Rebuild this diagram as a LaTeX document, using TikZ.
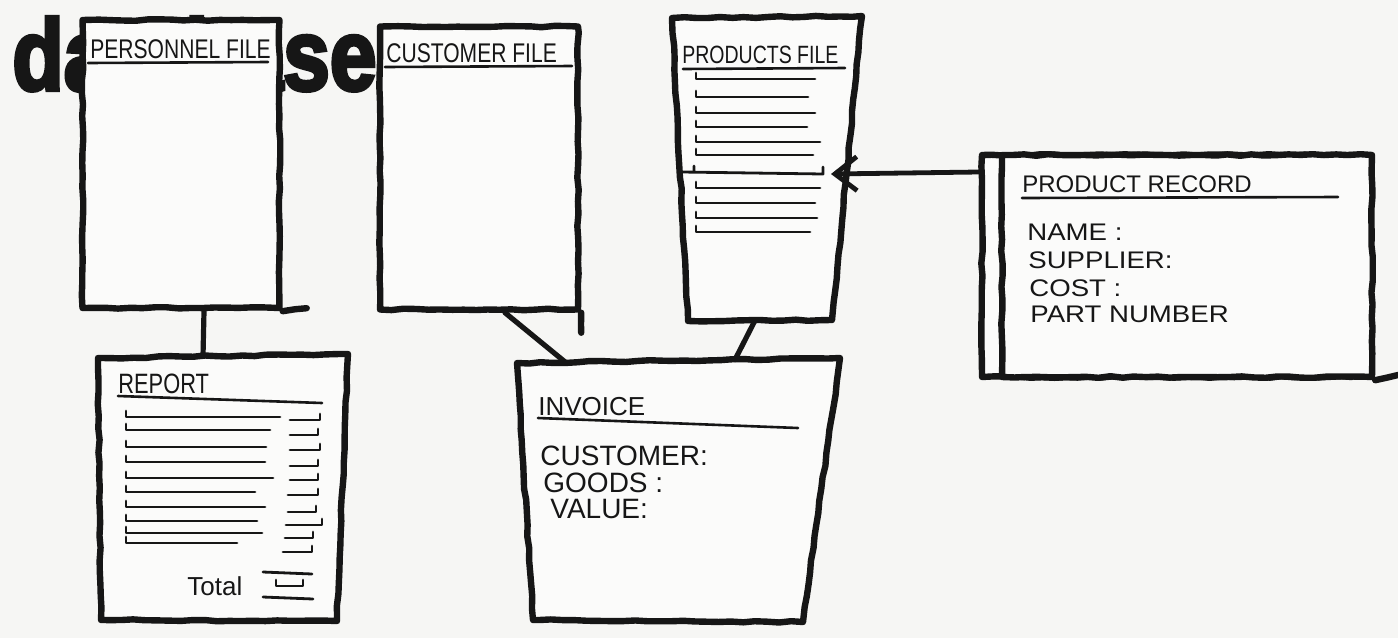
\documentclass[tikz,border=0pt]{standalone}
\usepackage{fontspec}
\usetikzlibrary{arrows.meta, calc, decorations.pathmorphing}
\setmainfont{Liberation Sans}
\newfontfamily\handfont{Liberation Sans}
\newfontfamily\handnarrow[FakeStretch=0.78]{Liberation Sans}
\newfontfamily\handwide[FakeStretch=1.15]{Liberation Sans}
\newfontfamily\blackfont[FakeBold=4]{Liberation Sans Bold}
\definecolor{Paper}{HTML}{F6F6F4}
\definecolor{Sheet}{HTML}{FBFBFA}
\definecolor{Ink}{HTML}{161616}

\begin{document}
\begin{tikzpicture}[
        x=0.5pt, y=-0.5pt,
        ink/.style={draw=Ink, line width=3.2pt, line join=round, line cap=round,
                    decorate, decoration={random steps, segment length=6pt, amplitude=0.4pt}},
        box/.style={ink, fill=Sheet, rectangle, inner sep=0pt},
        link/.style={draw=Ink, line width=2.6pt, line cap=round},
        jot/.style={draw=Ink, line width=1.4pt, line cap=round, line join=round},
        rule/.style={draw=Ink, line width=1.3pt, line cap=round},
        lbl/.style={anchor=base west, inner sep=0pt, text=Ink},
        title/.style={lbl, font=\handnarrow\fontsize{13.5}{16}\selectfont},
        head/.style={lbl, font=\handfont\fontsize{13}{15}\selectfont},
        field/.style={lbl, font=\handfont\fontsize{14}{16}\selectfont},
        rfield/.style={lbl, font=\handwide\fontsize{12}{14}\selectfont},
      ]
        \useasboundingbox (0,0) rectangle (1398,638);
        \fill[Paper] (0,0) rectangle (1398,638);
        \node[lbl, font=\blackfont\fontsize{42}{42}\selectfont] (word) at (12,90) {\scalebox{1}[1.2]{database}};

        % files
        \node[box, minimum width=98.5pt, minimum height=144pt] (pers) at (181,164) {};
        \node[box, minimum width=99pt, minimum height=141.5pt] (cust) at (479,168) {};
        \coordinate (prod-nw) at (672,18);  \coordinate (prod-ne) at (862,16);
        \coordinate (prod-se) at (832,320); \coordinate (prod-sw) at (688,321);
        \draw[ink, fill=Sheet] (prod-nw) -- (prod-ne) -- (prod-se) -- (prod-sw) -- cycle;
        \draw[ink] (pers.south east) -- ++(24,-3);
        \draw[ink] (cust.south east) -- ++(0,20);

        % outputs
        \coordinate (rep-nw) at (98,358);  \coordinate (rep-ne) at (348,354);
        \coordinate (rep-se) at (337,621); \coordinate (rep-sw) at (101,620);
        \draw[ink, fill=Sheet] (rep-nw) -- (rep-ne) -- (rep-se) -- (rep-sw) -- cycle;
        \coordinate (inv-nw) at (517,363); \coordinate (inv-ne) at (840,358);
        \coordinate (inv-se) at (803,622); \coordinate (inv-sw) at (533,620);
        \draw[ink, fill=Sheet] (inv-nw) -- (inv-ne) -- (inv-se) -- (inv-sw) -- cycle;

        % record card
        \node[box, minimum width=185pt, minimum height=111pt] (recback) at (1167,266) {};
        \node[box, minimum width=185pt, minimum height=111pt] (rec) at (1187,266) {};
        \coordinate (edge) at (1398,375);
        \draw[ink] (rec.south east) -- (edge);

        \draw[link] ([xshift=11.5pt]pers.south) -- ($(rep-nw)!0.42!(rep-ne)$);
        \draw[link] ([xshift=13pt]cust.south) -- ($(inv-nw)!0.15!(inv-ne)$);
        \draw[link] ($(prod-sw)!0.465!(prod-se)$) -- ($(inv-nw)!0.675!(inv-ne)$);
        \coordinate (slot) at (831,174);
        \draw[link, line width=2.4pt, -{Straight Barb[length=11pt, width=17pt]}]
            ([yshift=47pt]recback.west) -- (slot);

        \node[title] (pers-t) at (90,58) {PERSONNEL FILE};
        \draw[rule] (88,63) -- (268,62);
        \node[title] (cust-t) at (386,62) {CUSTOMER FILE};
        \draw[rule] (385,67) -- (572,66);
        \node[title, font=\handnarrow\fontsize{12.5}{15}\selectfont] (prod-t) at (682,63) {PRODUCTS FILE};
        \draw[rule] (683,69) -- (845,68);
        \foreach \y/\e in {79/815, 97/808, 113/815, 127/807, 142/820, 155/813,
                           188/820, 203/815, 218/817, 232/810}
            \draw[jot] (696,\y-6) -- (696,\y) -- (\e,\y);
        \draw[jot] (694,166) -- (694,172) (682,172) -- (823,174) -- ++(0,-7);

        \node[head, font=\handfont\fontsize{12}{14}\selectfont] (rec-t) at (1022,192) {PRODUCT RECORD};
        \draw[rule] (1022,198) -- (1338,197);
        \node[rfield] (rec-a) at (1027,240) {NAME :};
        \node[rfield] (rec-b) at (1028,268) {SUPPLIER:};
        \node[rfield] (rec-c) at (1029,296) {COST :};
        \node[rfield] (rec-d) at (1030,322) {PART NUMBER};

        \node[title, font=\handnarrow\fontsize{14}{16}\selectfont] (rep-t) at (118,393) {REPORT};
        \draw[rule] (118,396) -- (322,403);
        \foreach \y/\e in {417/280, 430/270, 447/266, 462/265, 478/273, 492/255,
                           507/265, 521/257, 533/262, 543/237}
            \draw[jot] (126,\y-6) -- (126,\y) -- (\e,\y);
        \foreach \y/\s/\e in {420/290/320, 435/290/318, 450/290/320, 466/290/318, 480/290/318,
                              495/288/318, 512/288/316, 525/286/322, 538/285/313, 552/283/312}
            \draw[jot] (\s,\y) -- (\e,\y) -- (\e,\y-6);
        \node[head] (rep-sum) at (187,595) {Total};
        \draw[jot] (263,572) -- (312,574);
        \draw[jot] (276,580) -- (276,586) -- (303,586) -- (303,580);
        \draw[jot] (263,597) -- (313,599);

        \node[head] (inv-t) at (538,415) {INVOICE};
        \draw[rule] (538,418) -- (798,428);
        \node[field] (inv-a) at (540,465) {CUSTOMER:};
        \node[field] (inv-b) at (543,492) {GOODS :};
        \node[field] (inv-c) at (550,518) {VALUE:};
      \end{tikzpicture}
\end{document}
